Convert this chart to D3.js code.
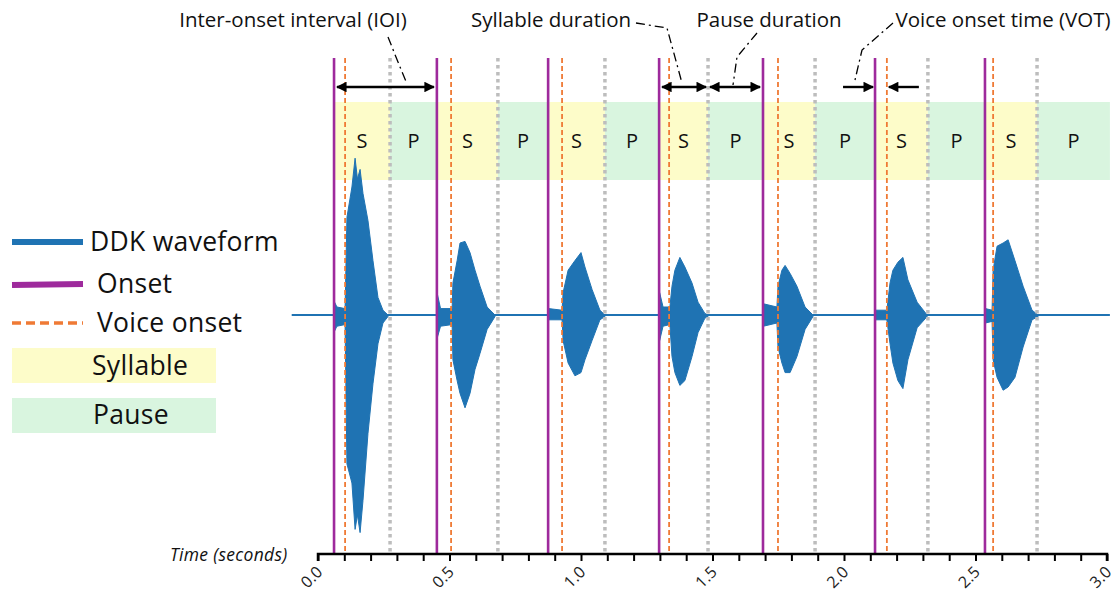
<!DOCTYPE html>
<html>
<head>
<meta charset="utf-8">
<script src="https://cdn.jsdelivr.net/npm/d3@7"></script>
<style>
  body { margin: 0; background: #fff; }
  svg { display: block; font-family: "Open Sans", sans-serif; }
</style>
</head>
<body>
<div id="main"></div>
<script>
// event times (seconds)
var onsets = [0.061, 0.452, 0.875, 1.297, 1.692, 2.118, 2.536];
var voiceOnsets = [0.103, 0.506, 0.928, 1.335, 1.749, 2.163, 2.567];
var syllableEnds = [0.274, 0.684, 1.091, 1.483, 1.890, 2.319, 2.734];
var recordStart = -0.1;
var recordEnd = 3.011;

var tickValues = d3.range(0, 31).map(function(i){ return i / 10; });
var tickLabels = ["0.0", "0.5", "1.0", "1.5", "2.0", "2.5", "3.0"];

// waveform envelope per burst: [time, upper, lower]
var burst1 = [[0.063,0.08,-0.10],[0.072,0.05,-0.07],[0.103,0.04,-0.06],[0.110,0.61,-0.93],[0.129,0.80,-1.05],[0.141,0.98,-1.34],[0.150,0.85,-1.25],[0.160,0.91,-1.36],[0.171,0.76,-1.16],[0.190,0.59,-0.74],[0.209,0.34,-0.43],[0.228,0.11,-0.18],[0.247,0.03,-0.05],[0.266,0,-0.01]];
var burst2 = [[0.454,0.13,-0.14],[0.466,0.04,-0.07],[0.510,0.04,-0.06],[0.513,0.20,-0.28],[0.529,0.34,-0.41],[0.540,0.45,-0.49],[0.559,0.46,-0.58],[0.578,0.39,-0.49],[0.597,0.28,-0.34],[0.616,0.18,-0.24],[0.643,0.05,-0.09],[0.673,0,-0.01]];
var burst3 = [[0.877,0.04,-0.03],[0.928,0.03,-0.03],[0.932,0.14,-0.16],[0.951,0.28,-0.30],[0.977,0.34,-0.38],[1.000,0.39,-0.36],[1.015,0.30,-0.28],[1.042,0.16,-0.16],[1.072,0.03,-0.03],[1.091,0,-0.01]];
var burst4 = [[1.299,0.14,-0.16],[1.312,0.05,-0.07],[1.338,0.05,-0.06],[1.346,0.18,-0.26],[1.357,0.28,-0.36],[1.376,0.36,-0.44],[1.395,0.30,-0.41],[1.422,0.20,-0.26],[1.445,0.08,-0.11],[1.471,0.01,-0.02],[1.483,0,-0.01]];
var burst5 = [[1.694,0.07,-0.07],[1.745,0.05,-0.05],[1.749,0.18,-0.20],[1.764,0.28,-0.30],[1.776,0.31,-0.36],[1.795,0.26,-0.36],[1.821,0.18,-0.26],[1.852,0.05,-0.09],[1.882,0,-0.01]];
var burst6 = [[2.120,0.03,-0.03],[2.163,0.03,-0.03],[2.175,0.20,-0.18],[2.186,0.28,-0.30],[2.205,0.33,-0.41],[2.224,0.36,-0.46],[2.243,0.22,-0.28],[2.278,0.08,-0.08],[2.316,0,-0.01]];
var burst7 = [[2.538,0.04,-0.05],[2.563,0.03,-0.04],[2.567,0.28,-0.28],[2.582,0.43,-0.39],[2.605,0.45,-0.47],[2.624,0.47,-0.45],[2.650,0.34,-0.39],[2.681,0.18,-0.20],[2.715,0.03,-0.03],[2.738,0,-0.01]];
var bursts = [burst1, burst2, burst3, burst4, burst5, burst6, burst7];

var legendItems = ["DDK waveform", "Onset", "Voice onset", "Syllable", "Pause"];

var colors = {
  wave: "#1f73b3",
  onset: "#9e2a9c",
  voice: "#ef7a35",
  syl: "#fdfcc9",
  pause: "#d9f5df",
  dotted: "#bdbdbd"
};

var dimensions = { width: 1120, height: 591 };

var SVG = d3.select("#main").append("svg")
  .attr("width", dimensions.width)
  .attr("height", dimensions.height);

var defs = SVG.append("defs");
defs.append("marker")
  .attr("id", "head")
  .attr("viewBox", "0 0 10 10")
  .attr("refX", 9).attr("refY", 5)
  .attr("markerWidth", 5).attr("markerHeight", 4.4)
  .attr("markerUnits", "strokeWidth")
  .attr("orient", "auto-start-reverse")
  .append("path").attr("d", "M0,0 L10,5 L0,10 Z").attr("fill", "#000");

var x = d3.scaleLinear().domain([0, 3]).range([318, 1107]);
var y = d3.scaleLinear().domain([-1, 1]).range([475, 155]);
var axisY = 554, lineTop = 58;
var bandTop = 102, bandBottom = 180;

// syllable / pause bands
var segments = [];
onsets.forEach(function(o, i){
  segments.push({ kind: "S", t0: o, t1: syllableEnds[i] });
  segments.push({ kind: "P", t0: syllableEnds[i], t1: i < onsets.length - 1 ? onsets[i + 1] : recordEnd });
});

SVG.append("g").selectAll("rect")
  .data(segments).enter().append("rect")
  .attr("x", function(d){ return x(d.t0); })
  .attr("width", function(d){ return x(d.t1) - x(d.t0); })
  .attr("y", bandTop).attr("height", bandBottom - bandTop)
  .attr("fill", function(d){ return d.kind == "S" ? colors.syl : colors.pause; });

SVG.append("g").selectAll("text")
  .data(segments).enter().append("text")
  .attr("x", function(d){ return (x(d.t0) + x(d.t1)) / 2; })
  .attr("y", (bandTop + bandBottom) / 2)
  .attr("dy", "0.35em")
  .attr("text-anchor", "middle")
  .style("font-size", "20px")
  .attr("fill", "#111")
  .text(function(d){ return d.kind; });

// waveform
SVG.append("line")
  .attr("x1", x(recordStart)).attr("x2", x(recordEnd))
  .attr("y1", y(0)).attr("y2", y(0))
  .attr("stroke", colors.wave).attr("stroke-width", 2);

var area = d3.area()
  .x(function(d){ return x(d[0]); })
  .y0(function(d){ return y(d[2]); })
  .y1(function(d){ return y(d[1]); });

SVG.append("g").selectAll("path")
  .data(bursts).enter().append("path")
  .attr("d", area)
  .attr("fill", colors.wave)
  .attr("stroke", colors.wave).attr("stroke-width", 1);

// vertical markers
SVG.append("g").selectAll("line")
  .data(syllableEnds).enter().append("line")
  .attr("x1", function(d){ return x(d); }).attr("x2", function(d){ return x(d); })
  .attr("y1", lineTop).attr("y2", axisY)
  .attr("stroke", colors.dotted).attr("stroke-width", 3.5)
  .attr("stroke-dasharray", "3.5,3.5");

SVG.append("g").selectAll("line")
  .data(voiceOnsets).enter().append("line")
  .attr("x1", function(d){ return x(d); }).attr("x2", function(d){ return x(d); })
  .attr("y1", lineTop).attr("y2", axisY)
  .attr("stroke", colors.voice).attr("stroke-width", 1.8)
  .attr("stroke-dasharray", "5,3");

SVG.append("g").selectAll("line")
  .data(onsets).enter().append("line")
  .attr("x1", function(d){ return x(d); }).attr("x2", function(d){ return x(d); })
  .attr("y1", lineTop).attr("y2", axisY)
  .attr("stroke", colors.onset).attr("stroke-width", 2.6);

// x axis
var xAxis = d3.axisBottom(x)
  .tickValues(tickValues)
  .tickSize(7)
  .tickFormat(function(d){
    var lbl = d3.format(".1f")(d);
    return tickLabels.indexOf(lbl) >= 0 ? lbl : "";
  });

var axisG = SVG.append("g")
  .attr("transform", "translate(0," + axisY + ")")
  .call(xAxis);
axisG.select(".domain").attr("stroke", "#000").attr("stroke-width", 2.5)
  .attr("d", "M" + x(0) + ",7V0H" + x(3) + "V7");
axisG.selectAll(".tick line").attr("stroke", "#000").attr("stroke-width", 2);
axisG.selectAll(".tick text")
  .attr("fill", "#222")
  .style("font-size", "16px")
  .style("font-family", "'Open Sans', sans-serif")
  .attr("text-anchor", "end")
  .attr("dy", "0.35em")
  .attr("transform", "translate(1,15) rotate(-45)")
  .attr("y", 0).attr("x", 0);

SVG.append("text")
  .attr("x", 170).attr("y", 561)
  .style("font-size", "17.5px").style("font-style", "italic")
  .style("letter-spacing", "0.3px")
  .attr("fill", "#111")
  .text("Time (seconds)");

// annotations
var ann = SVG.append("g");
var arrowY = 87;
function arrow(x1, x2, head1, head2) {
  var l = ann.append("line")
    .attr("x1", x1).attr("x2", x2).attr("y1", arrowY).attr("y2", arrowY)
    .attr("stroke", "#000").attr("stroke-width", 2.4);
  if (head1) l.attr("marker-start", "url(#head)");
  if (head2) l.attr("marker-end", "url(#head)");
}
arrow(x(onsets[0]) + 3, x(onsets[1]) - 3, true, true);
arrow(x(onsets[3]) + 3, x(syllableEnds[3]) - 2, true, true);
arrow(x(syllableEnds[3]) + 2, x(onsets[4]) - 3, true, true);
arrow(x(onsets[5]) - 32, x(onsets[5]) - 2, false, true);
arrow(x(voiceOnsets[5]) + 32, x(voiceOnsets[5]) + 2, false, true);

var leaders = [
  [[388, 37], [398, 62], [407, 84]],
  [[636, 23], [667, 28], [682, 83]],
  [[757, 33], [737, 57], [733, 85]],
  [[893, 23], [862, 50], [855, 80]]
];
ann.selectAll("path.leader")
  .data(leaders).enter().append("path")
  .attr("class", "leader")
  .attr("d", d3.line())
  .attr("fill", "none").attr("stroke", "#000").attr("stroke-width", 1.3)
  .attr("stroke-dasharray", "9,4,2,4");

var annTexts = [
  { label: "Inter-onset interval (IOI)", cx: 293 },
  { label: "Syllable duration", cx: 551 },
  { label: "Pause duration", cx: 769 },
  { label: "Voice onset time (VOT)", cx: 1003 }
];
ann.selectAll("text")
  .data(annTexts).enter().append("text")
  .attr("x", function(d){ return d.cx; })
  .attr("y", 27)
  .attr("text-anchor", "middle")
  .style("font-size", "20.5px")
  .attr("fill", "#111")
  .text(function(d){ return d.label; });

// legend
var leg = SVG.append("g");
leg.append("line").attr("x1", 12).attr("x2", 83).attr("y1", 242).attr("y2", 242)
  .attr("stroke", colors.wave).attr("stroke-width", 6);
leg.append("line").attr("x1", 12).attr("x2", 83).attr("y1", 285).attr("y2", 284)
  .attr("stroke", colors.onset).attr("stroke-width", 6);
leg.append("line").attr("x1", 12).attr("x2", 83).attr("y1", 323).attr("y2", 323)
  .attr("stroke", colors.voice).attr("stroke-width", 3.5).attr("stroke-dasharray", "9,5");
leg.append("rect").attr("x", 12).attr("y", 348).attr("width", 204).attr("height", 35)
  .attr("fill", colors.syl);
leg.append("rect").attr("x", 12).attr("y", 398).attr("width", 204).attr("height", 35)
  .attr("fill", colors.pause);

var legPos = [[90, 251], [97, 293], [97, 332], [92, 375], [93, 424]];
leg.selectAll("text")
  .data(legendItems).enter().append("text")
  .attr("x", function(d, i){ return legPos[i][0]; })
  .attr("y", function(d, i){ return legPos[i][1]; })
  .style("font-size", "26.5px")
  .style("letter-spacing", "0.3px")
  .attr("fill", "#111")
  .text(function(d){ return d; });
</script>
</body>
</html>
